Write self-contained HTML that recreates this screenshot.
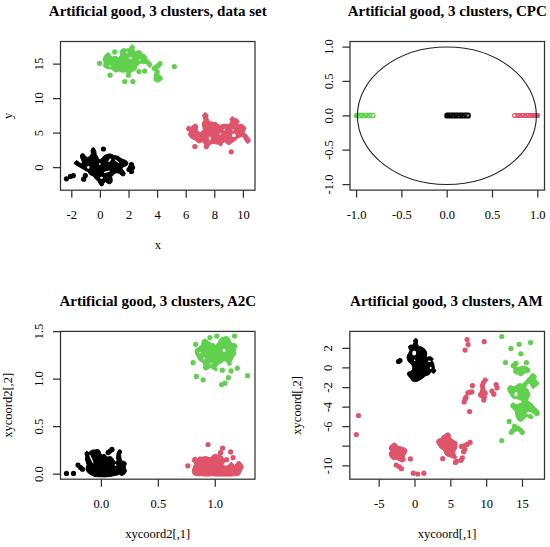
<!DOCTYPE html>
<html><head><meta charset="utf-8"><style>
html,body{margin:0;padding:0;background:#fff;}
svg{display:block;}
.ln{fill:none;stroke:#333;stroke-width:1.25;}
.t{font-family:"Liberation Serif",serif;font-size:12.5px;text-anchor:middle;fill:#000;}
.tt{font-family:"Liberation Serif",serif;font-size:15px;font-weight:bold;text-anchor:middle;fill:#000;}
</style></head><body>
<svg width="550" height="547" viewBox="0 0 550 547">
<rect x="60.5" y="41.5" width="194.5" height="148.7" class="ln"/>
<path d="M71.8 190.2v7.5M100.4 190.2v7.5M129 190.2v7.5M157.6 190.2v7.5M186.2 190.2v7.5M214.8 190.2v7.5M243.4 190.2v7.5M60.5 167.5h-7.5M60.5 133h-7.5M60.5 98.5h-7.5M60.5 64h-7.5" class="ln"/>
<text x="71.8" y="218.7" class="t">-2</text>
<text x="100.4" y="218.7" class="t">0</text>
<text x="129" y="218.7" class="t">2</text>
<text x="157.6" y="218.7" class="t">4</text>
<text x="186.2" y="218.7" class="t">6</text>
<text x="214.8" y="218.7" class="t">8</text>
<text x="243.4" y="218.7" class="t">10</text>
<text transform="translate(43 167.5) rotate(-90)" class="t">0</text>
<text transform="translate(43 133) rotate(-90)" class="t">5</text>
<text transform="translate(43 98.5) rotate(-90)" class="t">10</text>
<text transform="translate(43 64) rotate(-90)" class="t">15</text>
<text x="157.75" y="15.9" class="tt">Artificial good, 3 clusters, data set</text>
<text x="157.75" y="249.4" class="t">x</text>
<text transform="translate(11.5 115.85) rotate(-90)" class="t">y</text>
<rect x="350" y="41.5" width="194.5" height="148.6" class="ln"/>
<path d="M356.6 190.1v7.5M401.9 190.1v7.5M447.2 190.1v7.5M492.5 190.1v7.5M537.8 190.1v7.5M350 184.5h-7.5M350 150.12h-7.5M350 115.75h-7.5M350 81.38h-7.5M350 47h-7.5" class="ln"/>
<text x="356.6" y="218.6" class="t">-1.0</text>
<text x="401.9" y="218.6" class="t">-0.5</text>
<text x="447.2" y="218.6" class="t">0.0</text>
<text x="492.5" y="218.6" class="t">0.5</text>
<text x="537.8" y="218.6" class="t">1.0</text>
<text transform="translate(332.5 184.5) rotate(-90)" class="t">-1.0</text>
<text transform="translate(332.5 150.12) rotate(-90)" class="t">-0.5</text>
<text transform="translate(332.5 115.75) rotate(-90)" class="t">0.0</text>
<text transform="translate(332.5 81.38) rotate(-90)" class="t">0.5</text>
<text transform="translate(332.5 47) rotate(-90)" class="t">1.0</text>
<text x="447.25" y="15.9" class="tt">Artificial good, 3 clusters, CPC</text>
<rect x="60.5" y="331.4" width="194.5" height="147.8" class="ln"/>
<path d="M101.4 479.2v7.5M158.35 479.2v7.5M215.3 479.2v7.5M60.5 474.1h-7.5M60.5 426.57h-7.5M60.5 379.03h-7.5M60.5 331.5h-7.5" class="ln"/>
<text x="101.4" y="507.7" class="t">0.0</text>
<text x="158.35" y="507.7" class="t">0.5</text>
<text x="215.3" y="507.7" class="t">1.0</text>
<text transform="translate(43 474.1) rotate(-90)" class="t">0.0</text>
<text transform="translate(43 426.57) rotate(-90)" class="t">0.5</text>
<text transform="translate(43 379.03) rotate(-90)" class="t">1.0</text>
<text transform="translate(43 331.5) rotate(-90)" class="t">1.5</text>
<text x="157.75" y="305.8" class="tt">Artificial good, 3 clusters, A2C</text>
<text x="157.75" y="538.4" class="t">xycoord2[,1]</text>
<text transform="translate(11.5 405.3) rotate(-90)" class="t">xycoord2[,2]</text>
<rect x="349.8" y="331.4" width="194.7" height="147.8" class="ln"/>
<path d="M379.18 479.2v7.5M415 479.2v7.5M450.82 479.2v7.5M486.65 479.2v7.5M522.48 479.2v7.5M349.8 465.8h-7.5M349.8 446.23h-7.5M349.8 426.67h-7.5M349.8 407.1h-7.5M349.8 387.54h-7.5M349.8 367.97h-7.5M349.8 348.4h-7.5" class="ln"/>
<text x="379.18" y="507.7" class="t">-5</text>
<text x="415" y="507.7" class="t">0</text>
<text x="450.82" y="507.7" class="t">5</text>
<text x="486.65" y="507.7" class="t">10</text>
<text x="522.48" y="507.7" class="t">15</text>
<text transform="translate(332.3 465.8) rotate(-90)" class="t">-10</text>
<text transform="translate(332.3 426.67) rotate(-90)" class="t">-6</text>
<text transform="translate(332.3 407.1) rotate(-90)" class="t">-4</text>
<text transform="translate(332.3 387.54) rotate(-90)" class="t">-2</text>
<text transform="translate(332.3 367.97) rotate(-90)" class="t">0</text>
<text transform="translate(332.3 348.4) rotate(-90)" class="t">2</text>
<text x="446.35" y="305.8" class="tt">Artificial good, 3 clusters, AM</text>
<text x="447.15" y="538.4" class="t">xycoord[,1]</text>
<text transform="translate(300.8 405.3) rotate(-90)" class="t">xycoord[,2]</text>
<polygon fill="#61D04F" stroke="#61D04F" stroke-width="1" stroke-linejoin="round" points="103.7,57.4 105.1,55.1 106.9,53.3 108.7,52.8 110.1,54.2 110.5,56 112.4,56.9 114.7,56 116.9,56.9 118.8,57.4 120.6,55.5 120.1,52.8 120.6,50.5 122.4,48.7 124.7,48.7 126.5,49.1 128.8,48.7 130.2,46.9 131.6,44.6 133.4,45.5 134.8,47.3 133.8,49.1 134.3,51 135.7,51.9 137.5,51 139.3,50.5 141.2,51.4 142.3,53.7 144.6,54.6 146.4,56.5 146.9,58.7 148.7,60.6 150.5,62.4 151.9,64.2 151,66.5 149.6,67.4 148.3,66 146.9,64.2 145.1,63.3 143.2,63.8 141.4,63.3 139.6,63.8 138.2,64.7 136.8,66.5 137,68.3 135.2,70.2 133.4,71.1 131.6,72 130.2,72.9 127.9,72.9 126.1,72 124.3,72 122.4,72.4 120.6,71.5 118.8,71.1 116.9,72 115.1,72 113.3,70.6 111.5,69.3 109.6,68.8 107.8,68.8 106,67.9 104.1,67 103.7,64.7 104.1,62.4 103.2,60.1"/>
<polygon fill="#DF536B" stroke="#DF536B" stroke-width="1" stroke-linejoin="round" points="186.4,128.9 187.2,126.9 188.8,126.1 190.4,127.3 192.1,126.1 194.1,124.5 196.1,124.1 197.7,126.1 197.3,128.5 197.3,130.5 198.9,132.1 200.5,132.5 202.1,131.3 203.3,129.3 202.9,126.9 202.1,124.9 202.5,122.5 204.1,120.1 203.3,117.7 202.5,115.6 203.7,113.6 205.3,112.4 206.9,113.6 208.1,115.6 207.7,117.7 208.5,120.1 210.2,121.7 212.2,122.1 214.2,122.5 215.8,122.1 217.4,123.7 219.8,125.3 222.2,124.5 224.7,124.1 227.1,124.5 229.5,124.1 230.7,121.7 229.9,119.3 231.1,117.3 233.1,116.8 234.7,118.5 236.7,118.9 238.7,120.1 239.1,122.1 237.9,123.7 239.1,124.9 241.5,124.1 243.6,125.3 245.2,126.9 246,128.9 244.8,130.5 244,132.9 245.6,133.7 247.2,135.4 248.8,137.8 250.4,140.2 249.6,142.2 247.6,143.4 246,142.2 244.8,140.2 243.6,137.8 242.4,136.2 240,137 237.5,138.2 235.5,140.2 233.1,141.8 231.1,143.4 229.5,144.6 227.5,144.2 225.9,142.6 224.3,141.8 222.6,143.4 221.4,145.8 219.8,145.8 219,144.2 217.4,144.2 215,143.8 214.2,143.4 211.8,143.8 209.4,145 208.5,147.4 206.9,149 204.9,148.6 204.1,146.6 204.5,144.6 203.7,142.6 201.7,141.8 200.1,142.6 198.5,143 196.9,141.8 195.3,140.2 193.3,139.4 191.3,138.2 189.6,136.6 188.4,134.5 188.8,132.9 190,132.1 189.2,130.9 187.6,130.9"/>
<polygon fill="#000000" stroke="#000000" stroke-width="1" stroke-linejoin="round" points="74.5,162.3 76.1,160.7 77.7,161.1 79.7,163.1 81.3,163.5 82.5,162.3 81.7,159.9 80.5,157.5 80.5,155.1 82.1,153.5 84.1,154.3 85.7,156.7 87.8,157.5 89.8,156.3 91.4,153.9 91,151 91.8,148.6 93,147.4 94.6,148.6 95.8,151.4 96.2,154.3 97.5,156.5 98.5,158.5 100,160 101.5,159 102.5,157.5 103.8,155.9 106.3,154.7 109.1,153.9 111.5,154.3 113.9,155.5 116.3,155.9 118.3,156.3 120.3,157.9 122.8,159.5 125.6,160.3 127.6,161.9 128,163.9 126.8,165.5 124.8,166.3 122.8,167.1 122,168.7 123.6,170.8 125.2,173.2 124.8,175.2 122.8,176 120.7,174.8 119.1,173.2 117.1,172.8 115.1,173.2 113.1,175.2 111.5,176.8 112.3,179.6 111.9,182.4 109.9,184 107.5,183.2 105.5,181.6 103.8,183.2 103,185.6 101,186 99.4,184 98.2,181.6 96.6,180 95,178.4 93.4,176 91,175.2 89,173.6 87.8,171.2 85.7,170.8 84.1,169.5 81.7,168.3 79.7,167.1 77.7,165.9 75.7,164.7 74.1,163.5"/>
<polygon fill="#000000" stroke="#000000" stroke-width="1" stroke-linejoin="round" points="86.6,451.3 88.9,452.6 90.8,450.7 92.7,450 95,450 98.2,449.4 100.1,451.3 100.8,453.6 102,455.2 104,454.2 105.6,455.2 107.2,457.1 108.8,456.8 110.7,456.4 112.3,457.7 113.6,459.6 114.8,461.6 116.1,462.2 117.1,460.3 116.4,457.7 116.8,455.2 117.4,452 119,449.7 120.9,450 121.6,452 120.6,454.5 120.9,457.7 121.6,460.9 123.5,461.2 125.7,462.2 126.4,464.1 125.1,466 125.7,468.6 126.4,471.2 125.1,473.7 123.2,475 121.2,475.6 119.6,474.3 117.4,475 114.2,475.6 111,476.3 104.6,476.9 95,476.6 91.4,475 88.9,473.4 86.6,471.2 86,468.6 87,464.8 86.3,462.2 85.4,459.6 85.7,456.4 85,453.2"/>
<polygon fill="#DF536B" stroke="#DF536B" stroke-width="1" stroke-linejoin="round" points="192.3,459.3 193.6,457.6 195.6,457.2 197.7,458.4 199.7,456.8 201.8,457.2 204.3,456.8 206.3,456.4 208.8,457.6 211.2,457.2 212.9,455.1 215.4,454.3 217.8,455.1 219.5,454.7 221.1,455.6 222.8,456.8 224,459.7 224.5,462.1 223.2,464.6 224.9,466.3 227.3,465.8 229.4,464.2 231.4,462.1 232.7,463.4 234.3,465.4 236,464.2 237.6,461.7 240.1,461.7 241.7,463.8 243.4,467.1 242.1,469.5 240.9,472 239.7,474.5 238,475.7 234.7,475.7 231.4,476.1 227.3,476.1 223.2,476.1 219.1,476.1 215,476.1 212.9,475.7 208.8,476.1 204.7,476.1 200.6,475.7 196.4,475.7 193.2,474.5 192.3,471.6 192.7,468.7 193.6,466.3 194.8,464.2 194,462.5 192.3,461.3"/>
<polygon fill="#61D04F" stroke="#61D04F" stroke-width="1" stroke-linejoin="round" points="202.5,340.2 205.2,338.9 208,340.9 210.7,343 213.4,343.6 215.5,345 218.2,343 219.5,339.5 221.6,337.5 225,336.8 227.7,336.8 229.8,338.9 230.5,341.6 232.5,343.6 235.2,343.6 237.3,345.7 235.9,348.4 235.2,351.8 235.9,354.5 233.9,356.6 232.5,359.3 231.1,362 231.1,364.8 228.4,365.5 227,362 224.3,360.7 222.3,362 220.2,363.4 217.5,364.8 216.1,367.5 217.5,369.5 216.1,370.9 213.4,369.5 210.7,367.5 208,368.9 205.2,370.2 203.2,368.2 203.9,365.5 203.2,362.7 200.5,361.4 198.4,359.3 197,356.6 195.7,353.9 195,351.1 196.4,348.4 199.1,347 201.8,345 201.8,342.3"/>
<polygon fill="#000000" stroke="#000000" stroke-width="1" stroke-linejoin="round" points="415.2,338.5 416.9,338.9 417.7,341 417.3,343.9 418.5,346.3 421,346.8 423.5,348 424.9,349.4 426.3,351.5 426.7,354 426.5,356.5 427.5,357.2 429.3,356.7 431.4,357.1 433.3,358.9 432.2,360.7 433.6,363.3 434,365.5 434.4,368.4 435.8,370.6 434.7,372.8 432.9,373.2 431.4,371.3 430,373.5 428.2,375 425.6,375.7 424.1,377.2 421.9,378.6 419.7,380.1 417.6,381.2 414.6,381.6 412.1,380.8 410.6,378.6 408.8,376.4 407.3,374.3 408,372.1 410.2,371.7 412.4,369.9 412.8,367.7 412.1,365.5 411.5,364 410.3,363.2 408.6,362 407.4,359.5 407,357 407.8,354.6 409,352.5 409.9,350.5 409,348.8 408.6,346.3 410.3,345.1 412.8,345.1 414,343 413.6,340.2"/>
<polygon fill="#DF536B" stroke="#DF536B" stroke-width="1" stroke-linejoin="round" points="389.5,446.6 391.2,445 393.6,442.9 396.1,443.7 397.7,446.2 400.2,446.6 402.6,447.4 405.1,448.2 407.1,450.3 406.3,453.1 404.7,455.2 404.3,457.6 405.5,459.7 403.9,461.7 401.4,462.1 399.4,460.9 397.3,459.7 395.3,459.3 393.2,459.7 391.2,458 389.5,455.6 389.1,453.1 390.8,451.1 389.5,449"/>
<polygon fill="#DF536B" stroke="#DF536B" stroke-width="1" stroke-linejoin="round" points="436.5,441.1 438.2,439 441,438.6 441.9,436.2 444.3,435 446,433.3 448.4,432.9 450.5,434.5 450,437 452.1,439.5 454.5,440.7 457,442.3 457,445.2 457,448 455.4,450.1 454.5,452.5 455.4,455 456.6,457 455.4,458.7 452.9,458.3 450.5,457 447.6,456.2 445.1,454.6 444.3,451.7 443.1,449.7 440.6,448.5 439,446.4 437.4,444"/>
<polygon fill="#61D04F" stroke="#61D04F" stroke-width="1" stroke-linejoin="round" points="511.4,365.9 514.5,365 517.7,367.7 520.5,366.8 524.1,365.9 526.8,366.8 529.5,369.1 529.5,371.8 527.3,372.7 524.1,373.2 522.3,375.5 520,375.9 517.7,374.1 515.5,374.1 513.6,372.3 514.1,369.5 512.7,368.2"/>
<polygon fill="#61D04F" stroke="#61D04F" stroke-width="1" stroke-linejoin="round" points="508.6,386.4 510.5,385.5 513.2,386.8 516.4,385.5 519.1,383.6 522.3,384.1 525,381.8 526.8,379.5 529.5,376.8 531.8,373.6 534.1,374.1 536.4,376.4 535.5,379.1 537.3,381.4 539.1,383.2 537.7,385 535.5,386.8 533.2,388.6 531.4,387.3 530.5,384.5 529.1,382.7 527.3,384.5 525.5,387.7 527.7,389.1 529.1,391.8 530,395 528.6,397.7 527.3,400.5 530.5,402.7 533.2,405 535,407.7 536.4,408.6 538.6,410.9 539.5,413.6 537.7,415.9 535.5,415.5 533.6,413.6 531.8,412.3 529.1,411.4 526.8,411.8 525.9,413.6 528.2,415 530.5,414.5 533.2,416.4 532.3,418.6 530,418.6 528.2,417.3 526.4,416.4 525,418.2 522.7,420.5 520.5,421.4 518.2,420.5 516.8,418.2 515.9,415.5 515.5,412.7 514.5,410 512.3,408.6 510.9,406.8 510.9,404.5 513.2,402.7 515.9,404.5 518.6,404.1 521.4,402.7 522.3,401.4 520.5,400 518.2,399.5 516.8,398.6 514.1,398.6 511.8,397.3 510.9,395 509.5,393.2 508.2,391.4 507.7,388.6"/>
<g fill="#61D04F"><circle cx="99.6" cy="63.3" r="2.6"/><circle cx="114.7" cy="51.9" r="2.6"/><circle cx="110.1" cy="75.2" r="2.6"/><circle cx="124.7" cy="81.6" r="2.6"/><circle cx="132.9" cy="81.6" r="2.6"/><circle cx="128.4" cy="75.2" r="2.6"/><circle cx="138.9" cy="71.5" r="2.6"/><circle cx="144.6" cy="71.1" r="2.6"/><circle cx="160" cy="63.6" r="2.6"/><circle cx="158.2" cy="65.5" r="2.6"/><circle cx="156.2" cy="67.2" r="2.6"/><circle cx="154.2" cy="68.3" r="2.6"/><circle cx="157.2" cy="71.5" r="2.6"/><circle cx="157" cy="73.5" r="2.6"/><circle cx="156.2" cy="76" r="2.6"/><circle cx="158.5" cy="77.2" r="2.6"/><circle cx="160.2" cy="78.3" r="2.6"/><circle cx="156" cy="79" r="2.6"/><circle cx="157.8" cy="80" r="2.6"/><circle cx="174.3" cy="66.5" r="2.6"/><circle cx="195.7" cy="344.3" r="2.6"/><circle cx="193" cy="362.7" r="2.6"/><circle cx="210" cy="337.5" r="2.6"/><circle cx="216.8" cy="336.1" r="2.6"/><circle cx="234.5" cy="336.1" r="2.6"/><circle cx="237.3" cy="368.2" r="2.6"/><circle cx="231.1" cy="370.9" r="2.6"/><circle cx="222.3" cy="370.2" r="2.6"/><circle cx="228.4" cy="377.7" r="2.6"/><circle cx="225" cy="383.2" r="2.6"/><circle cx="221.6" cy="384.5" r="2.6"/><circle cx="203.2" cy="379.8" r="2.6"/><circle cx="196.4" cy="376.4" r="2.6"/><circle cx="247.5" cy="375.7" r="2.6"/><circle cx="501.8" cy="336.5" r="2.6"/><circle cx="519.1" cy="344.3" r="2.6"/><circle cx="530.5" cy="342.5" r="2.6"/><circle cx="510.9" cy="348.4" r="2.6"/><circle cx="520.9" cy="353.8" r="2.6"/><circle cx="505.5" cy="362.5" r="2.6"/><circle cx="515.9" cy="363.4" r="2.6"/><circle cx="513.2" cy="365.6" r="2.6"/><circle cx="526.4" cy="362.5" r="2.6"/><circle cx="509.1" cy="421.4" r="2.6"/><circle cx="514.5" cy="426.4" r="2.6"/><circle cx="512.7" cy="430.5" r="2.6"/><circle cx="511.4" cy="432.3" r="2.6"/><circle cx="517.7" cy="428.2" r="2.6"/><circle cx="520.5" cy="430" r="2.6"/><circle cx="522.3" cy="432.3" r="2.6"/><circle cx="515.9" cy="429.1" r="2.6"/><circle cx="501.8" cy="440.5" r="2.6"/></g>
<g fill="#DF536B"><circle cx="194.9" cy="146.5" r="2.6"/><circle cx="231.2" cy="151.8" r="2.6"/><circle cx="208" cy="444.5" r="2.6"/><circle cx="187.8" cy="465.8" r="2.6"/><circle cx="222.6" cy="448.2" r="2.6"/><circle cx="220.6" cy="452.7" r="2.6"/><circle cx="230.6" cy="451.9" r="2.6"/><circle cx="233.1" cy="457.6" r="2.6"/><circle cx="226.5" cy="459.7" r="2.6"/><circle cx="467.1" cy="339.5" r="2.6"/><circle cx="468.1" cy="344.6" r="2.6"/><circle cx="465.1" cy="350.1" r="2.6"/><circle cx="484.2" cy="341.6" r="2.6"/><circle cx="472.4" cy="385.5" r="2.6"/><circle cx="471.9" cy="391.9" r="2.6"/><circle cx="467.8" cy="392.8" r="2.6"/><circle cx="466" cy="397.4" r="2.6"/><circle cx="464.1" cy="402" r="2.6"/><circle cx="465.1" cy="399.2" r="2.6"/><circle cx="469.6" cy="411.6" r="2.6"/><circle cx="469.9" cy="392.2" r="2.6"/><circle cx="485.2" cy="380" r="2.6"/><circle cx="483.3" cy="382.8" r="2.6"/><circle cx="482.4" cy="385.5" r="2.6"/><circle cx="482.9" cy="388.7" r="2.6"/><circle cx="482.4" cy="391.5" r="2.6"/><circle cx="484.3" cy="392.4" r="2.6"/><circle cx="480.6" cy="394.7" r="2.6"/><circle cx="482.4" cy="396" r="2.6"/><circle cx="484.3" cy="397.4" r="2.6"/><circle cx="483.8" cy="400.1" r="2.6"/><circle cx="485.2" cy="393.3" r="2.6"/><circle cx="496.1" cy="384.6" r="2.6"/><circle cx="497" cy="387.8" r="2.6"/><circle cx="492" cy="391" r="2.6"/><circle cx="493.8" cy="394.2" r="2.6"/><circle cx="358.5" cy="415.6" r="2.6"/><circle cx="356.3" cy="434.6" r="2.6"/><circle cx="410.4" cy="458.9" r="2.6"/><circle cx="396.1" cy="465" r="2.6"/><circle cx="399" cy="466.6" r="2.6"/><circle cx="401.4" cy="468.7" r="2.6"/><circle cx="413.3" cy="473.2" r="2.6"/><circle cx="417.8" cy="474" r="2.6"/><circle cx="423.9" cy="473.2" r="2.6"/><circle cx="442.7" cy="458.7" r="2.6"/><circle cx="456.6" cy="461.1" r="2.6"/><circle cx="455.4" cy="462.4" r="2.6"/><circle cx="461.1" cy="460.3" r="2.6"/><circle cx="462.3" cy="457.9" r="2.6"/><circle cx="463.6" cy="451.7" r="2.6"/><circle cx="464.8" cy="449.3" r="2.6"/><circle cx="461.5" cy="446.4" r="2.6"/><circle cx="464.4" cy="445.6" r="2.6"/><circle cx="467.2" cy="444.4" r="2.6"/><circle cx="470.1" cy="442.3" r="2.6"/></g>
<g fill="#000000"><circle cx="66.4" cy="178.8" r="2.6"/><circle cx="70.5" cy="176.4" r="2.6"/><circle cx="73.3" cy="175.6" r="2.6"/><circle cx="83.7" cy="179.2" r="2.6"/><circle cx="85.3" cy="175.6" r="2.6"/><circle cx="103.4" cy="149" r="2.6"/><circle cx="131.5" cy="164.5" r="2.6"/><circle cx="132.5" cy="167.5" r="2.6"/><circle cx="130.5" cy="167" r="2.6"/><circle cx="129" cy="169.5" r="2.6"/><circle cx="131.5" cy="171.5" r="2.6"/><circle cx="66.5" cy="473.4" r="2.6"/><circle cx="73.5" cy="473.4" r="2.6"/><circle cx="78" cy="465.1" r="2.6"/><circle cx="80.6" cy="467.6" r="2.6"/><circle cx="82.5" cy="469.2" r="2.6"/><circle cx="108.1" cy="452.6" r="2.6"/><circle cx="110" cy="451" r="2.6"/><circle cx="112" cy="449.4" r="2.6"/><circle cx="398.5" cy="361.5" r="2.6"/><circle cx="400" cy="360.5" r="2.6"/></g>
<g fill="#fff"><ellipse cx="130.6" cy="57.8" rx="1.6" ry="1.0"/><ellipse cx="127" cy="52.3" rx="0.9" ry="0.9"/><ellipse cx="110" cy="66" rx="0.8" ry="0.8"/><ellipse cx="139.8" cy="59.7" rx="0.8" ry="0.8"/><ellipse cx="209.8" cy="138.6" rx="1.0" ry="2.0"/><ellipse cx="233.9" cy="135.4" rx="1.8" ry="1.8"/><ellipse cx="233.1" cy="130.1" rx="0.8" ry="0.8"/><ellipse cx="224.3" cy="129.7" rx="0.8" ry="0.8"/><ellipse cx="220.2" cy="133.7" rx="0.8" ry="0.8"/><ellipse cx="88.3" cy="167.2" rx="1.2" ry="1.5"/><ellipse cx="99.8" cy="163.9" rx="0.9" ry="0.9"/><ellipse cx="101.5" cy="177.8" rx="1.5" ry="1.1"/><ellipse cx="115.5" cy="465" rx="0.9" ry="0.9"/><ellipse cx="224.1" cy="350.4" rx="1.4" ry="1.4"/><ellipse cx="204" cy="358.6" rx="1.0" ry="1.0"/><ellipse cx="200" cy="352.8" rx="0.7" ry="0.7"/><ellipse cx="211" cy="363.6" rx="1.3" ry="0.8"/><ellipse cx="414.2" cy="353" rx="2.0" ry="2.6"/><ellipse cx="414.6" cy="360.4" rx="0.8" ry="0.8"/><ellipse cx="429.3" cy="361.3" rx="1.6" ry="0.7"/><ellipse cx="430.7" cy="367.9" rx="1.0" ry="1.0"/><ellipse cx="516" cy="394.2" rx="1.5" ry="2.1"/></g>
<ellipse cx="0" cy="0" rx="0.9" ry="2.2" fill="#fff" transform="translate(109.8 160.3) rotate(35)"/>
<ellipse cx="0" cy="0" rx="3.2" ry="0.8" fill="#fff" transform="translate(106.8 171.8) rotate(-15)"/>
<ellipse cx="0" cy="0" rx="0.6" ry="3.0" fill="#fff" transform="translate(116.9 161.3) rotate(-55)"/>
<ellipse cx="0" cy="0" rx="0.7" ry="5.0" fill="#fff" transform="translate(91.4 459) rotate(-23)"/>
<rect x="354" y="112.7" width="21.6" height="5.6" rx="2.6" fill="#61D04F"/><circle cx="373.2" cy="115.5" r="1.3" fill="#fff"/><circle cx="361" cy="115" r="0.55" fill="#fff" fill-opacity="0.8"/><circle cx="363.5" cy="116.3" r="0.55" fill="#fff" fill-opacity="0.8"/><circle cx="366" cy="114.8" r="0.55" fill="#fff" fill-opacity="0.8"/><circle cx="368.5" cy="116.2" r="0.55" fill="#fff" fill-opacity="0.8"/><circle cx="370.5" cy="114.9" r="0.55" fill="#fff" fill-opacity="0.8"/><circle cx="359" cy="116.6" r="0.55" fill="#fff" fill-opacity="0.8"/>
<rect x="444.3" y="112.4" width="26.5" height="6.2" rx="2.6" fill="#000"/><circle cx="467.9" cy="115.5" r="1.3" fill="#888"/><circle cx="451" cy="114.6" r="0.55" fill="#888" fill-opacity="0.8"/><circle cx="453.5" cy="116.2" r="0.55" fill="#888" fill-opacity="0.8"/><circle cx="456" cy="114.8" r="0.55" fill="#888" fill-opacity="0.8"/><circle cx="458.5" cy="116.4" r="0.55" fill="#888" fill-opacity="0.8"/><circle cx="461" cy="115" r="0.55" fill="#888" fill-opacity="0.8"/><circle cx="463.5" cy="116.3" r="0.55" fill="#888" fill-opacity="0.8"/><circle cx="465" cy="114.6" r="0.55" fill="#888" fill-opacity="0.8"/>
<rect x="512" y="112.9" width="28.1" height="5.1" rx="2.6" fill="#DF536B"/><circle cx="514.2" cy="115.5" r="1.3" fill="#fff"/><circle cx="517.5" cy="114.8" r="0.55" fill="#fff" fill-opacity="0.8"/><circle cx="520" cy="116.2" r="0.55" fill="#fff" fill-opacity="0.8"/><circle cx="522.5" cy="114.7" r="0.55" fill="#fff" fill-opacity="0.8"/><circle cx="525" cy="116.1" r="0.55" fill="#fff" fill-opacity="0.8"/><circle cx="527.5" cy="114.8" r="0.55" fill="#fff" fill-opacity="0.8"/><circle cx="530" cy="116" r="0.55" fill="#fff" fill-opacity="0.8"/>
<ellipse cx="446.9" cy="115.75" rx="89.5" ry="68.75" fill="none" stroke="#222" stroke-width="1.1"/>
</svg>
</body></html>
